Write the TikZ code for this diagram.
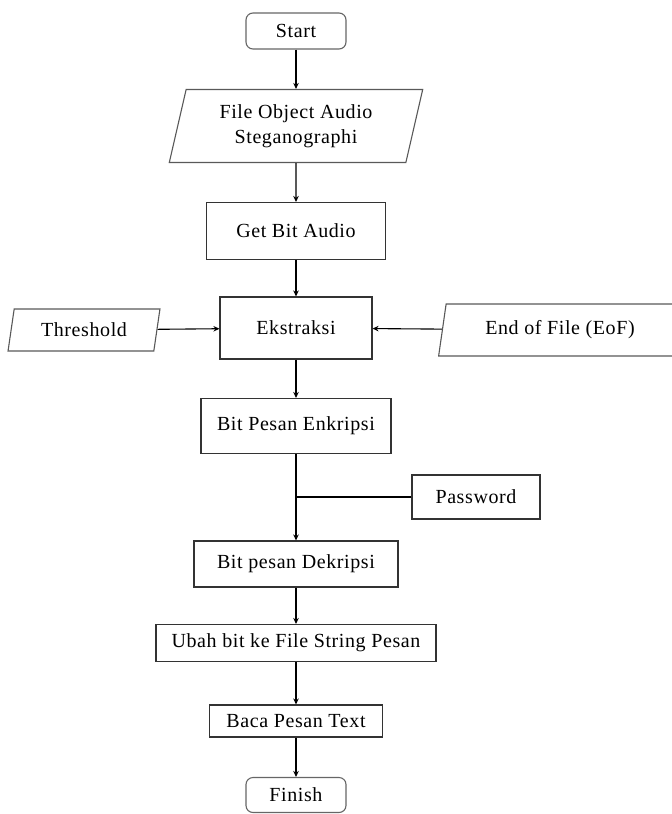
\documentclass[tikz,border=0pt]{standalone}
\usepackage{fontspec}
\setmainfont{Liberation Serif}[LetterSpace=3]
\usepackage{tikz}
\usetikzlibrary{shapes.geometric,arrows.meta,positioning,calc}

\begin{document}
\begin{tikzpicture}[x=1pt, y=-1pt,
      box/.style={rectangle, draw=black!80, line width=1.1pt, fill=white,
                  inner sep=0pt, align=center, font=\fontsize{20}{25.5}\selectfont},
      term/.style={box, rounded corners=7pt, draw=black!60, minimum width=100pt},
      io/.style={box, trapezium, trapezium left angle=75, trapezium right angle=105,
                 trapezium stretches=true, draw=black!65},
      arrow/.style={-{Stealth[length=6pt,width=5.5pt]}, line width=1.1pt}
    ]
      \useasboundingbox (0,0) rectangle (672,814);
      \node[term, minimum height=36pt] (start) at (296,31) {Start};
      \node[io, minimum width=254pt, minimum height=73pt] (fileobj) at (296,126)
            {File Object Audio\\Steganographi};
      \node[box, minimum width=179pt, minimum height=57pt] (getbit) at (296,231) {Get Bit Audio};
      \node[box, minimum width=152pt, minimum height=62pt] (ekstrak) at (296,328) {Ekstraksi};
      \node[io, minimum width=152pt, minimum height=42pt] (thresh) at (84,330) {Threshold};
      \node[io, minimum width=243pt, minimum height=52pt] (eof) at (560,330) {End of File (EoF)};
      \node[box, minimum width=190pt, minimum height=55pt] (enkrip) at (296,426) {Bit Pesan Enkripsi};
      \node[box, minimum width=128pt, minimum height=44pt] (passwd) at (476,497) {Password};
      \node[box, minimum width=204pt, minimum height=46pt] (dekrip) at (296,564) {Bit pesan Dekripsi};
      \node[box, minimum width=280pt, minimum height=37pt] (ubah) at (296,643) {Ubah bit ke File String Pesan};
      \node[box, minimum width=173pt, minimum height=32pt] (baca) at (296,721) {Baca Pesan Text};
      \node[term, minimum height=35pt] (finish) at (296,795) {Finish};
      \draw[arrow] (start)--(fileobj);
      \draw[arrow] (fileobj)--(getbit);
      \draw[arrow] (getbit)--(ekstrak);
      \draw[arrow] (thresh)--(ekstrak);
      \draw[arrow] (eof)--(ekstrak);
      \draw[arrow] (ekstrak)--(enkrip);
      \draw[arrow] (enkrip)--(dekrip);
      \draw[line width=1.1pt] (passwd.west)--(passwd.west -| enkrip.south);
      \draw[arrow] (dekrip)--(ubah);
      \draw[arrow] (ubah)--(baca);
      \draw[arrow] (baca)--(finish);
    \end{tikzpicture}
\end{document}
